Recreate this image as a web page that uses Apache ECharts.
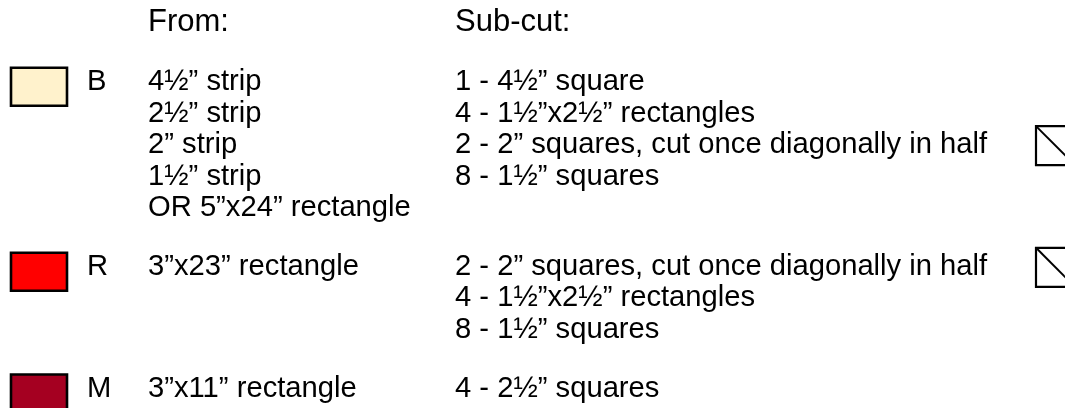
<!DOCTYPE html>
<html>
<head>
<meta charset="utf-8">
<script src="https://cdn.jsdelivr.net/npm/echarts@6/dist/echarts.min.js"></script>
<style>
html,body{margin:0;padding:0;background:#fff;}
#chart{width:1065px;height:408px;}
</style>
</head>
<body>
<div id="chart"></div>
<script>
// ---- data ----
const headers = ['From:', 'Sub-cut:'];
const rowLetters = ['B', 'R', 'M'];
const rowColors = ['#FFF2CC', '#FF0000', '#A50021'];
const fromLines = [
  ['4½” strip', '2½” strip', '2” strip', '1½” strip', 'OR 5”x24” rectangle'],
  ['3”x23” rectangle'],
  ['3”x11” rectangle']
];
const subcutLines = [
  ['1 - 4½” square', '4 - 1½”x2½” rectangles', '2 - 2” squares, cut once diagonally in half', '8 - 1½” squares'],
  ['2 - 2” squares, cut once diagonally in half', '4 - 1½”x2½” rectangles', '8 - 1½” squares'],
  ['4 - 2½” squares']
];

// ---- layout ----
const W = 1065, H = 408;
const LINE_H = 31.65;      // px per text line
const FIRST_MID = 81.8;    // px middle of first body line
const ROW_GAP = 0.845;     // extra lines between rows
const HEADER_SLOT = -1.874;
const COL = { swatch: 10, letter: 87, from: 148, sub: 455, icon: 1035 };
const FONT = '"Liberation Sans", Arial, Helvetica, sans-serif';
const BODY_FS = 29.2, HEAD_FS = 31;

const items = [];
headers.forEach((h, i) => items.push({ kind: 'header', x: i === 0 ? COL.from : COL.sub, slot: HEADER_SLOT, text: h }));
let slot = 0;
rowLetters.forEach((letter, r) => {
  items.push({ kind: 'swatch', x: COL.swatch, slot: slot, color: rowColors[r] });
  items.push({ kind: 'text', x: COL.letter, slot: slot, text: letter });
  fromLines[r].forEach((t, k) => items.push({ kind: 'text', x: COL.from, slot: slot + k, text: t }));
  subcutLines[r].forEach((t, k) => {
    items.push({ kind: 'text', x: COL.sub, slot: slot + k, text: t });
    if (t.indexOf('diagonally') >= 0) items.push({ kind: 'icon', x: COL.icon, slot: slot + k });
  });
  slot += Math.max(fromLines[r].length, subcutLines[r].length) + ROW_GAP;
});

function renderItem(params, api) {
  const it = items[params.dataIndex];
  const p = api.coord([api.value(0), api.value(1)]);
  if (it.kind === 'swatch') {
    return { type: 'rect', shape: { x: p[0] + 1, y: p[1] + 5 - 19, width: 56, height: 38 },
      style: { fill: it.color, stroke: '#000', lineWidth: 2.6 } };
  }
  if (it.kind === 'icon') {
    const s = 39, y0 = p[1] + 0.5 - s / 2, x0 = p[0] + 1;
    return { type: 'group', children: [
      { type: 'rect', shape: { x: x0, y: y0, width: s, height: s }, style: { fill: '#fff', stroke: '#000', lineWidth: 2.2 } },
      { type: 'line', shape: { x1: x0, y1: y0, x2: x0 + s, y2: y0 + s }, style: { stroke: '#000', lineWidth: 2 } }
    ] };
  }
  const fs = it.kind === 'header' ? HEAD_FS : BODY_FS;
  return { type: 'text', x: p[0], y: p[1],
    style: { text: it.text, fontSize: fs, fontFamily: FONT, fill: '#000', align: 'left', verticalAlign: 'middle' } };
}

const chart = echarts.init(document.getElementById('chart'), null, { renderer: 'canvas' });
chart.setOption({
  animation: false,
  backgroundColor: '#fff',
  grid: { left: 0, right: 0, top: 0, bottom: 0 },
  xAxis: { type: 'value', min: 0, max: W, show: false },
  yAxis: { type: 'value', inverse: true, min: -FIRST_MID / LINE_H, max: (H - FIRST_MID) / LINE_H, show: false },
  series: [{
    type: 'custom',
    coordinateSystem: 'cartesian2d',
    clip: false,
    renderItem: renderItem,
    data: items.map(it => [it.x, it.slot])
  }]
});
</script>
</body>
</html>
